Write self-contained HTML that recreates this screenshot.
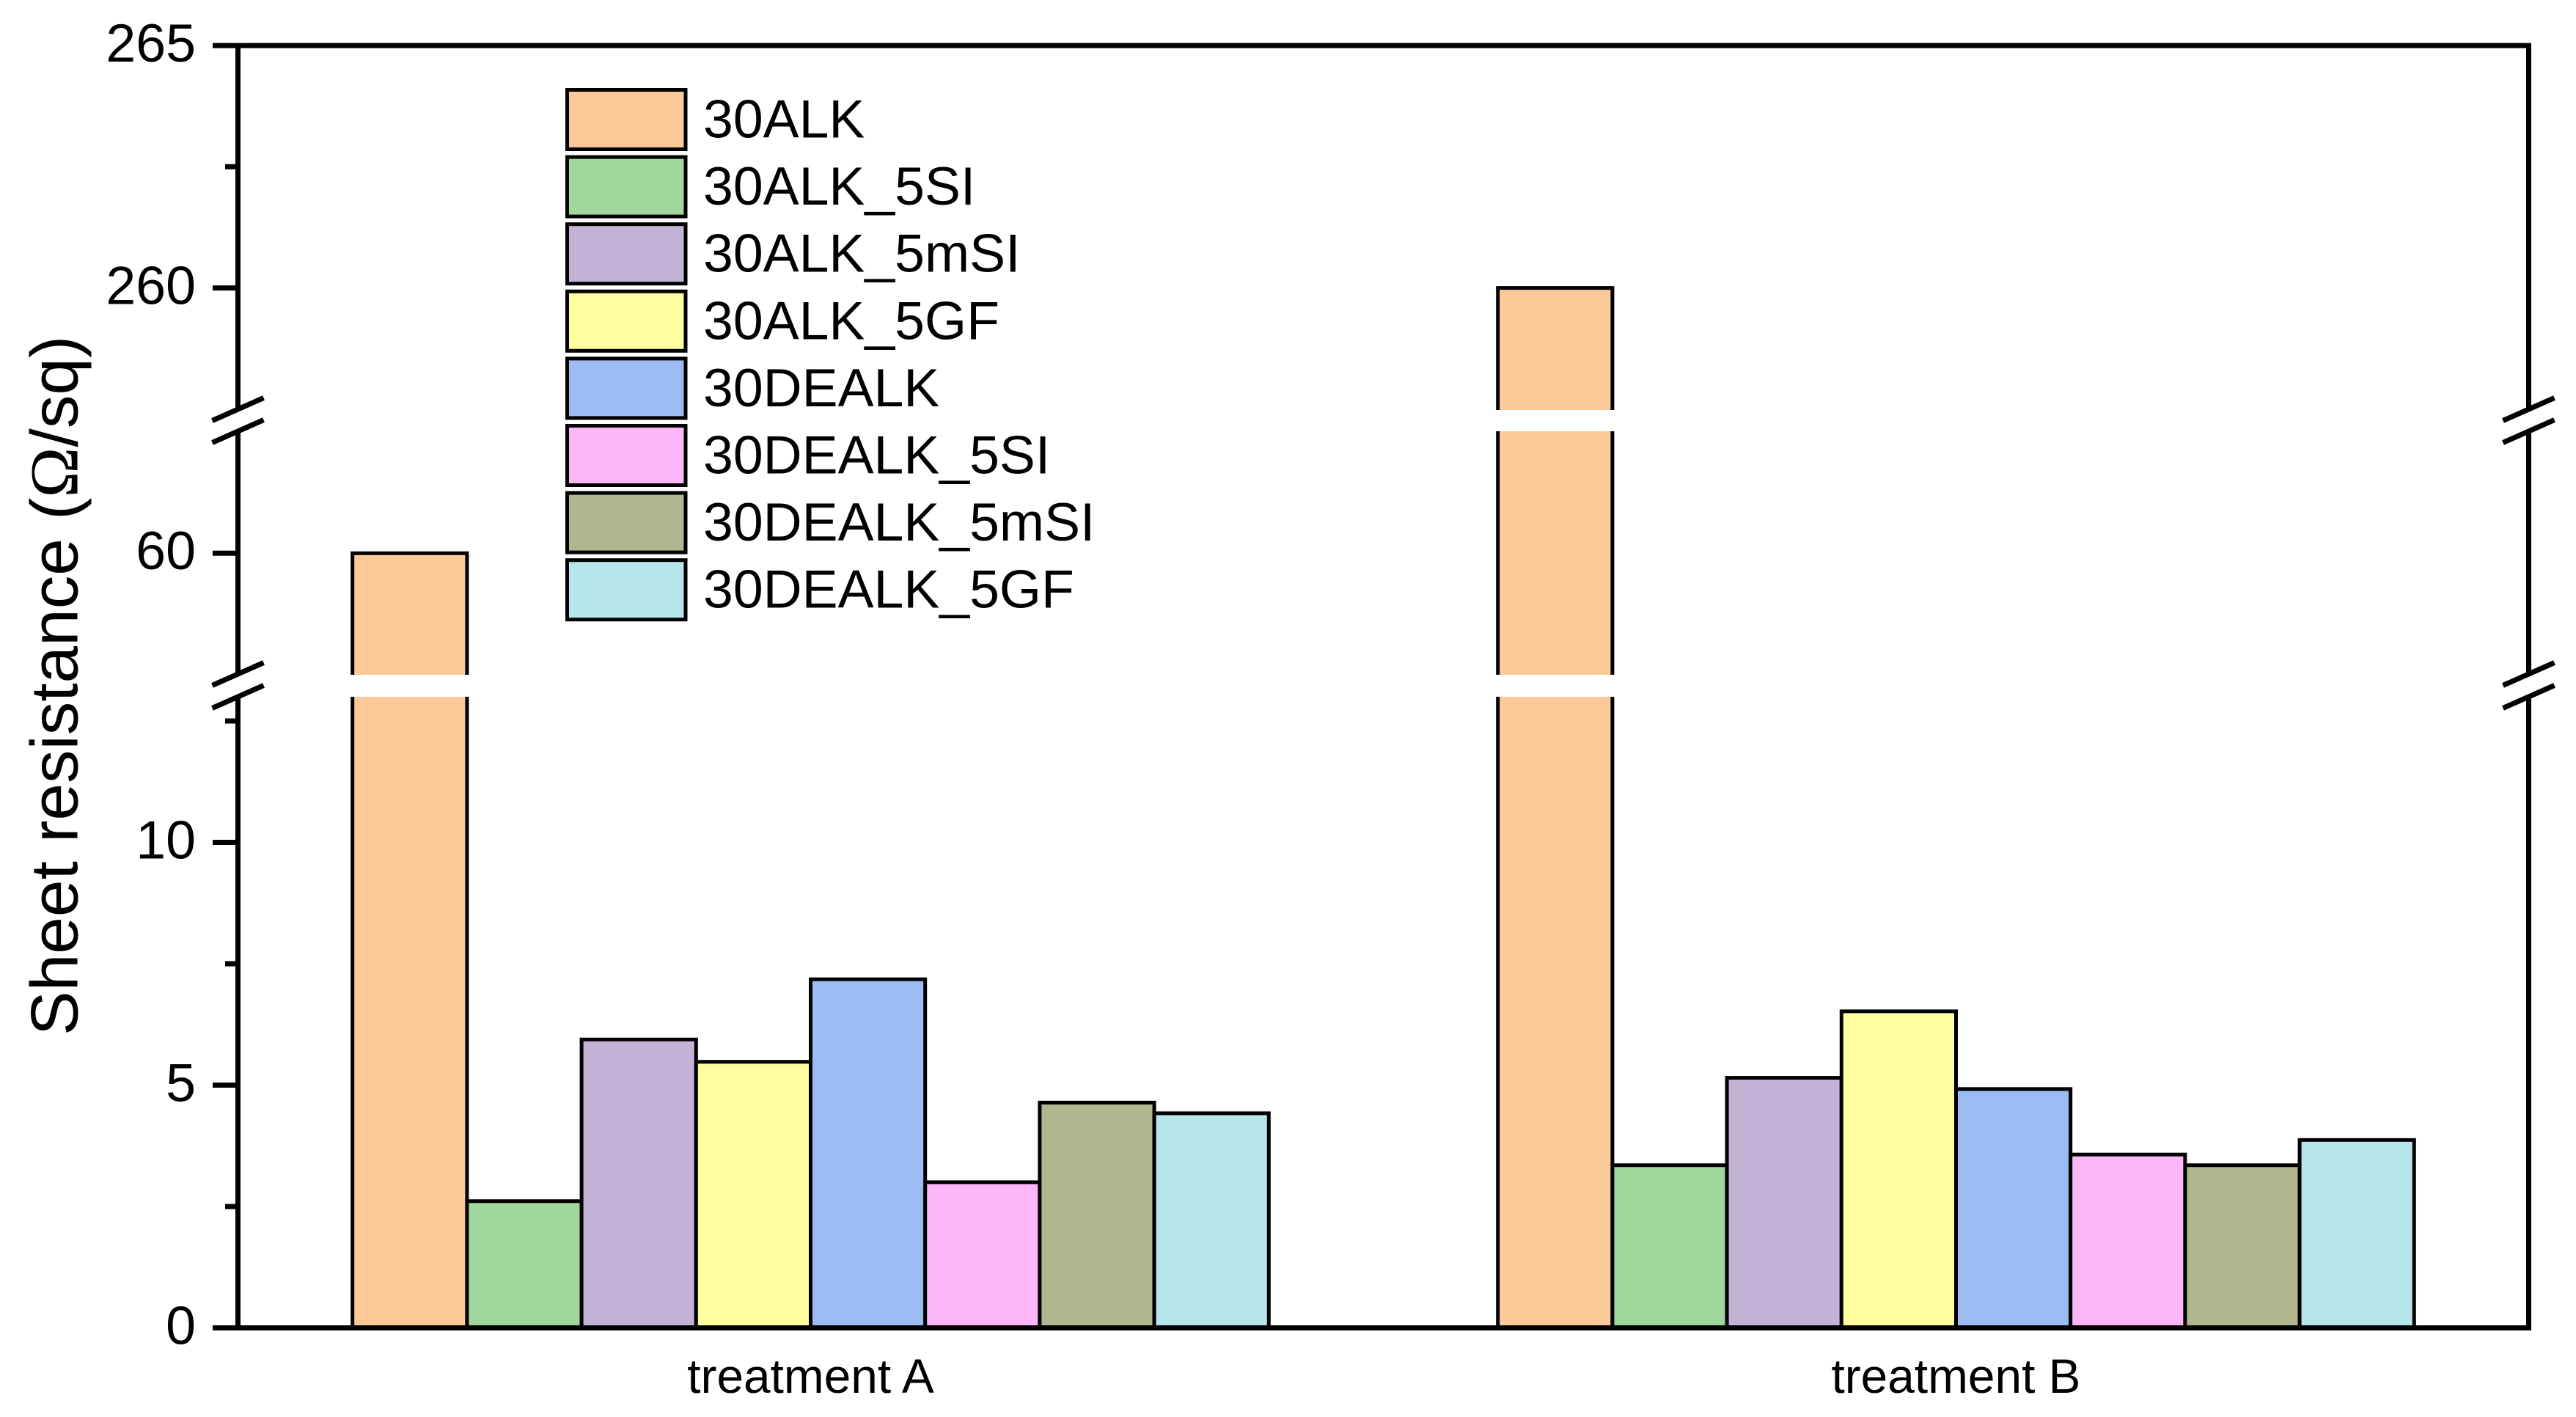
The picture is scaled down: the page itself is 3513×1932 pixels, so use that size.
<!DOCTYPE html>
<html lang="en">
<head>
<meta charset="utf-8">
<title>Sheet resistance bar chart</title>
<style>
html,body{margin:0;padding:0;background:#fff;width:3513px;height:1932px;overflow:hidden}
svg{display:block}
text{font-family:"Liberation Sans",sans-serif;fill:#000}
</style>
</head>
<body>
<svg id="chart" xmlns="http://www.w3.org/2000/svg" width="3513" height="1932" viewBox="0 0 3513 1932">
<rect x="0" y="0" width="3513" height="1932" fill="#fff"/>
<text transform="translate(105.6 1412) rotate(-90)" font-size="91">Sheet resistance (<tspan font-family="Liberation Serif" font-size="93">Ω</tspan>/sq)</text>
</svg>
<script>
const categories = ['treatment A', 'treatment B'];
const seriesNames = ['30ALK', '30ALK_5SI', '30ALK_5mSI', '30ALK_5GF', '30DEALK', '30DEALK_5SI', '30DEALK_5mSI', '30DEALK_5GF'];
const seriesColors = ['#FCC999', '#9FD79C', '#C2B3D7', '#FEFE9F', '#9CBBF2', '#FDB6F7', '#B2B68F', '#B6E5EA'];
const treatmentA = [60, 2.61, 5.94, 5.48, 7.18, 3.0, 4.64, 4.42];
const treatmentB = [260, 3.35, 5.15, 6.52, 4.92, 3.57, 3.35, 3.87];
const majorTicks = [0, 5, 10, 60, 260, 265];
const minorTicks = [2.5, 7.5, 12.5, 262.5];

const svg = document.getElementById('chart');
const NS = 'http://www.w3.org/2000/svg';

function make(tag, attrs, parent) {
  const el = document.createElementNS(NS, tag);
  for (const k in attrs) el.setAttribute(k, attrs[k]);
  (parent || svg).appendChild(el);
  return el;
}

/* Broken y axis: three linear segments sharing one scale */
const UNIT = 66.2;
const BREAK_LOW = 13;
const BREAK_MID_LOW = 57.5;
const BREAK_MID_HIGH = 62.5;
const BREAK_HIGH = 257.5;
function yScale(v) {
  if (v <= BREAK_LOW) return 1810.5 - UNIT * v;
  if (v < BREAK_MID_LOW) return 950 - (950 - 919.6) * (v - BREAK_LOW) / (BREAK_MID_LOW - BREAK_LOW);
  if (v <= BREAK_MID_HIGH) return 754.3 - UNIT * (v - 60);
  if (v < BREAK_HIGH) return 588 - (588 - 559) * (v - BREAK_MID_HIGH) / (BREAK_HIGH - BREAK_MID_HIGH);
  return 392.6 - 66.1 * (v - 260);
}

/* Category scale: each group occupies half of the x axis */
const AXIS_LEFT = 324.5;
const AXIS_RIGHT = 3448.5;
const BAR_W = 156.2;
function groupCenter(i) {
  return AXIS_LEFT + (AXIS_RIGHT - AXIS_LEFT) * (i + 0.5) / categories.length;
}
function barX(group, s) {
  return groupCenter(group) + (s - seriesNames.length / 2) * BAR_W;
}

/* Bars */
const barsLayer = make('g', {});


[treatmentA, treatmentB].forEach(function (values, g) {
  values.forEach(function (v, s) {
    const x = barX(g, s);
    const y = yScale(v);
    const bar = make('rect', { x: x, y: y, width: BAR_W, height: yScale(0) - y, fill: seriesColors[s], stroke: '#000', 'stroke-width': 5 }, barsLayer);
    
    
    if (v > BREAK_LOW) {
      const gap = make('rect', { x: x - 4, y: 920, width: BAR_W + 8, height: 30, fill: '#fff' }, barsLayer);
      
      
    }
    if (v > BREAK_MID_HIGH) {
      const gap2 = make('rect', { x: x - 4, y: 559, width: BAR_W + 8, height: 29, fill: '#fff' }, barsLayer);
      
      
    }
  });
});

/* Axis frame */
const axes = make('g', { stroke: '#000', 'stroke-width': 7, fill: 'none' });



const topAxis = make('line', { x1: 290, x2: 3452, y1: yScale(265), y2: yScale(265) }, axes);



const bottomAxis = make('line', { x1: 290, x2: 3452, y1: yScale(0), y2: yScale(0) }, axes);



const verticalSegments = [[62, 556], [590, 917], [952, 1811]];
[AXIS_LEFT, AXIS_RIGHT].forEach(function (x) {
  verticalSegments.forEach(function (seg) {
    const line = make('line', { x1: x, x2: x, y1: seg[0], y2: seg[1] }, axes);
    
    
  });
  [558, 588, 919, 950].forEach(function (cy) {
    const slash = make('line', { x1: x - 35, x2: x + 35, y1: cy + 15.5, y2: cy - 15.5 }, axes);
    
    
  });
});

/* Ticks and tick labels */
majorTicks.forEach(function (t) {
  const y = yScale(t);
  if (t !== 0 && t !== 265) {
    const tick = make('line', { x1: 290, x2: 322, y1: y, y2: y }, axes);
    
    
  }
  const label = make('text', { x: 267, y: y + 21.8, 'font-size': 73.5, 'text-anchor': 'end' });
  
  
  label.textContent = String(t);
});
minorTicks.forEach(function (t) {
  const y = yScale(t);
  const tick = make('line', { x1: 307, x2: 322, y1: y, y2: y }, axes);
  
  
});

/* Category labels */
categories.forEach(function (c, i) {
  const label = make('text', { x: groupCenter(i), y: 1899, 'font-size': 65.8, 'text-anchor': 'middle' });
  
  
  label.textContent = c;
});

/* Legend */
const legend = make('g', {});


seriesNames.forEach(function (name, i) {
  const top = 122.5 + i * 91.6;
  const swatch = make('rect', { x: 773.5, y: top, width: 161.5, height: 81, fill: seriesColors[i], stroke: '#000', 'stroke-width': 5 }, legend);
  
  
  const label = make('text', { x: 959, y: top + 65, 'font-size': 73.4 }, legend);
  
  
  label.textContent = name;
});
</script>
</body>
</html>
